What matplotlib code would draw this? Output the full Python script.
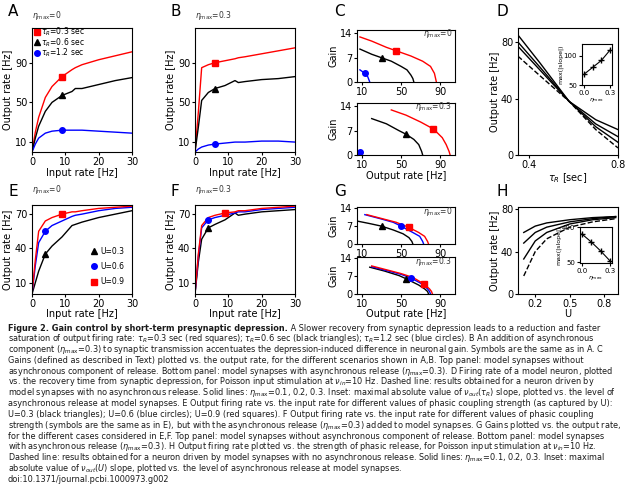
import numpy as np
import matplotlib.pyplot as plt

# ---- data ----
rate_in = [0, 1, 2, 4, 6, 9, 12, 13, 15, 20, 25, 30]
a_red = [0, 20, 35, 55, 66, 76, 83, 85, 88, 93, 97, 101]
a_black = [0, 14, 26, 41, 50, 57, 61, 64, 64, 68, 72, 75]
a_blue = [0, 8, 14, 19, 21, 22, 22, 22, 22, 21, 20, 19]
b_red = [0, 40, 85, 88, 90, 92, 94, 95, 96, 99, 102, 105]
b_black = [0, 25, 52, 60, 64, 67, 72, 70, 71, 73, 74, 76]
b_blue = [0, 3, 5, 7, 8, 9, 10, 10, 10, 11, 11, 10]
mk_a = {"x": 9, "red": 76, "black": 57, "blue": 22}
mk_b = {"x": 6, "red": 90, "black": 64, "blue": 8}

c1_red_x = [8, 20, 35, 45, 60, 72, 80, 84, 86]
c1_red_y = [13, 11.8, 10, 9, 7.5, 6, 4.5, 2.5, 0]
c1_black_x = [8, 20, 30, 40, 50, 56, 60, 62, 63]
c1_black_y = [9.5, 8, 7, 6, 4.5, 3.5, 2, 1, 0]
c1_blue_x = [8, 13, 16, 18]
c1_blue_y = [3.5, 2.5, 1.5, 0]
c2_red_x = [40, 55, 70, 83, 92, 96, 99, 100]
c2_red_y = [13, 11.5, 9.5, 7.5, 5, 3, 1, 0]
c2_black_x = [20, 35, 48, 55, 63, 68, 71, 72]
c2_black_y = [10.5, 9, 7, 6, 4.5, 3, 1, 0]
mk_c1 = [(45, 9, "red"), (30, 7, "black"), (13, 2.5, "blue")]
mk_c2 = [(83, 7.5, "red"), (55, 6, "black"), (8, 1, "blue")]

tau_r = [0.35, 0.45, 0.58, 0.7, 0.8]
d_lines = [[85, 65, 38, 25, 18], [80, 62, 38, 22, 13], [77, 60, 38, 20, 9], [70, 56, 38, 18, 5]]
d_inset_x = [0, 0.1, 0.2, 0.3]
d_inset_y = [68, 80, 92, 110]

e_red = [0, 30, 55, 64, 67, 70, 72, 72, 73, 75, 76, 77]
e_blue = [0, 25, 45, 55, 60, 64, 68, 69, 70, 73, 75, 76]
e_black = [0, 10, 20, 35, 42, 50, 60, 61, 63, 67, 70, 73]
f_red = [0, 35, 60, 67, 69, 71, 72, 73, 73, 75, 76, 77]
f_blue = [0, 33, 58, 65, 67, 69, 71, 72, 72, 74, 75, 76]
f_black = [0, 28, 48, 58, 61, 65, 71, 69, 70, 72, 73, 74]
mk_e = [(9, 70, "red"), (4, 55, "blue"), (4, 35, "black")]
mk_f = [(9, 71, "red"), (4, 65, "blue"), (4, 58, "black")]

g1_red_x = [15, 30, 45, 58, 68, 74, 77, 78]
g1_red_y = [11.5, 10, 8.5, 6.5, 4.5, 3, 1, 0]
g1_blue_x = [13, 28, 42, 50, 62, 69, 72, 73]
g1_blue_y = [11.5, 10, 8.5, 7, 4.5, 3, 1, 0]
g1_black_x = [5, 18, 30, 42, 52, 58, 61, 62]
g1_black_y = [9, 8, 7, 5.5, 4, 2.5, 1, 0]
g2_red_x = [20, 35, 50, 62, 73, 79, 81, 82]
g2_red_y = [11, 9.5, 8, 6.5, 4, 2, 1, 0]
g2_blue_x = [20, 35, 50, 60, 71, 77, 79, 80]
g2_blue_y = [10.7, 9.2, 7.7, 6.3, 4, 2, 1, 0]
g2_black_x = [18, 33, 48, 55, 68, 74, 77, 78]
g2_black_y = [10.5, 9, 7.2, 6, 3.5, 2, 1, 0]
mk_g1 = [(30, 7, "black"), (50, 7, "blue"), (58, 6.5, "red")]
mk_g2 = [(55, 6, "black"), (60, 6.3, "blue"), (73, 4, "red")]

u_vals = [0.1, 0.2, 0.3, 0.5, 0.7, 0.9]
h_lines = [[58, 64, 67, 70, 72, 73], [48, 58, 63, 68, 71, 73], [33, 50, 58, 66, 70, 72], [17, 40, 52, 63, 68, 71]]
h_inset_x = [0, 0.1, 0.2, 0.3]
h_inset_y = [330, 250, 160, 60]

W, H = 640, 486
fig = plt.figure(figsize=(6.4, 4.86), dpi=100)
plt.rcParams["font.size"] = 7

SYM = {"red": "s", "black": "^", "blue": "o"}


def ax_at(x0, y0, x1, y1):
    a = fig.add_axes([x0 / W, 1 - y1 / H, (x1 - x0) / W, (y1 - y0) / H])
    a.tick_params(labelsize=7, length=2, pad=1.5)
    return a


def mark(a, x, y, c, s=4):
    a.plot(x, y, SYM[c], color=c, ms=s)


def eta(a, txt, x=0.0, y=1.03, ha="left"):
    a.text(x, y, r"$\eta_{\rm max}$=" + txt, transform=a.transAxes, fontsize=5.5, ha=ha, va="bottom", color="#333333")


# A, B
for x0, lbl, R, K, Bl, mk, et in [(32, "A", a_red, a_black, a_blue, mk_a, "0"),
                                  (195, "B", b_red, b_black, b_blue, mk_b, "0.3")]:
    a = ax_at(x0, 28, x0 + 100, 152)
    a.plot(rate_in, R, "r", lw=1)
    a.plot(rate_in, K, "k", lw=1)
    a.plot(rate_in, Bl, "b", lw=1)
    for c in ["red", "black", "blue"]:
        mark(a, mk["x"], mk[c], c)
    a.set_xlim(0, 30); a.set_ylim(0, 125)
    a.set_xticks([0, 10, 20, 30]); a.set_yticks([10, 50, 90])
    a.set_xlabel("Input rate [Hz]", labelpad=1); a.set_ylabel("Output rate [Hz]", labelpad=1)
    eta(a, et, 0.0, 1.05)
    fig.text((x0 - 24) / W, 1 - 12 / H, lbl, fontsize=11, va="center")
    if lbl == "A":
        for i, (c, t) in enumerate([("red", "0.3"), ("black", "0.6"), ("blue", "1.2")]):
            yy = 0.97 - i * 0.085
            a.plot(0.05, yy, SYM[c], color=c, ms=4, transform=a.transAxes, clip_on=False)
            a.text(0.09, yy, r"$\tau_R$=" + t + " sec", transform=a.transAxes, fontsize=5.5, va="center")

# C
fig.text(334 / W, 1 - 12 / H, "C", fontsize=11, va="center")
for (y0, y1), curves, mks, et, xl in [((30, 82), [(c1_red_x, c1_red_y, "r"), (c1_black_x, c1_black_y, "k"), (c1_blue_x, c1_blue_y, "b")], mk_c1, "0", False),
                                      ((103, 155), [(c2_red_x, c2_red_y, "r"), (c2_black_x, c2_black_y, "k")], mk_c2, "0.3", True)]:
    a = ax_at(357, y0, 455, y1)
    for xs, ys, c in curves:
        a.plot(xs, ys, c, lw=1)
    for x, y, c in mks:
        mark(a, x, y, c)
    a.set_xlim(5, 105); a.set_ylim(0, 15)
    a.set_xticks([10, 50, 90]); a.set_yticks([0, 7, 14])
    a.set_ylabel("Gain", labelpad=1)
    eta(a, et, 0.97, 0.8, "right")
    if xl:
        a.set_xlabel("Output rate [Hz]", labelpad=1)

# D
a = ax_at(518, 28, 618, 155)
for i, ys in enumerate(d_lines):
    a.plot(tau_r, ys, "k", lw=1, ls="--" if i == 3 else "-")
a.set_xlim(0.35, 0.8); a.set_ylim(0, 90)
a.set_xticks([0.4, 0.8]); a.set_yticks([0, 40, 80])
a.set_xlabel(r"$\tau_R$ [sec]", labelpad=1); a.set_ylabel("Output rate [Hz]", labelpad=1)
fig.text(496 / W, 1 - 12 / H, "D", fontsize=11, va="center")
ia = ax_at(582, 44, 612, 85)
ia.plot(d_inset_x, d_inset_y, "k+-", lw=0.8, ms=4)
ia.set_xlim(-0.02, 0.32); ia.set_ylim(50, 120)
ia.set_xticks([0, 0.3]); ia.set_yticks([50, 100])
ia.tick_params(labelsize=5)
ia.set_ylabel("max(|slope|)", fontsize=4.5, labelpad=0)
ia.set_xlabel(r"$\eta_{\rm max}$", fontsize=4.5, labelpad=0)

# E, F
for x0, lbl, R, Bl, K, mks, et in [(32, "E", e_red, e_blue, e_black, mk_e, "0"),
                                   (195, "F", f_red, f_blue, f_black, mk_f, "0.3")]:
    a = ax_at(x0, 205, x0 + 100, 294)
    a.plot(rate_in, K, "k", lw=1)
    a.plot(rate_in, Bl, "b", lw=1)
    a.plot(rate_in, R, "r", lw=1)
    for x, y, c in mks:
        mark(a, x, y, c)
    a.set_xlim(0, 30); a.set_ylim(0, 78)
    a.set_xticks([0, 10, 20, 30]); a.set_yticks([10, 40, 70])
    a.set_xlabel("Input rate [Hz]", labelpad=0); a.set_ylabel("Output rate [Hz]", labelpad=1)
    eta(a, et, 0.0, 1.1)
    fig.text((x0 - 24) / W, 1 - 191 / H, lbl, fontsize=11, va="center")
    if lbl == "E":
        for i, (c, t) in enumerate([("black", "0.3"), ("blue", "0.6"), ("red", "0.9")]):
            yy = 0.48 - i * 0.17
            a.plot(0.62, yy, SYM[c], color=c, ms=4, transform=a.transAxes)
            a.text(0.68, yy, "U=" + t, transform=a.transAxes, fontsize=5.5, va="center")

# G
fig.text(334 / W, 1 - 191 / H, "G", fontsize=11, va="center")
for (y0, y1), curves, mks, et, xl in [((207, 244), [(g1_black_x, g1_black_y, "k"), (g1_blue_x, g1_blue_y, "b"), (g1_red_x, g1_red_y, "r")], mk_g1, "0", False),
                                      ((257, 294), [(g2_black_x, g2_black_y, "k"), (g2_blue_x, g2_blue_y, "b"), (g2_red_x, g2_red_y, "r")], mk_g2, "0.3", True)]:
    a = ax_at(357, y0, 455, y1)
    for xs, ys, c in curves:
        a.plot(xs, ys, c, lw=1)
    for x, y, c in mks:
        mark(a, x, y, c)
    a.set_xlim(5, 105); a.set_ylim(0, 14.5)
    a.set_xticks([10, 50, 90]); a.set_yticks([0, 7, 14])
    a.set_ylabel("Gain", labelpad=1)
    eta(a, et, 0.97, 0.7, "right")
    if xl:
        a.set_xlabel("Output rate [Hz]", labelpad=0)

# H
a = ax_at(518, 207, 618, 294)
for i, ys in enumerate(h_lines):
    a.plot(u_vals, ys, "k", lw=1, ls="--" if i == 3 else "-")
a.set_xlim(0.05, 0.92); a.set_ylim(0, 82)
a.set_xticks([0.2, 0.5, 0.8]); a.set_yticks([0, 40, 80])
a.set_xlabel("U", labelpad=0); a.set_ylabel("Output rate [Hz]", labelpad=1)
fig.text(496 / W, 1 - 191 / H, "H", fontsize=11, va="center")
ia = ax_at(580, 227, 612, 263)
ia.plot(h_inset_x, h_inset_y, "k+-", lw=0.8, ms=4)
ia.set_xlim(-0.02, 0.32); ia.set_ylim(40, 400)
ia.set_xticks([0, 0.3]); ia.set_yticks([50, 400])
ia.tick_params(labelsize=5)
ia.set_ylabel("max(|slope|)", fontsize=4.5, labelpad=0)
ia.set_xlabel(r"$\eta_{\rm max}$", fontsize=4.5, labelpad=0)

# caption
cap = [
    " A Slower recovery from synaptic depression leads to a reduction and faster",
    r"saturation of output firing rate: $\tau_R$=0.3 sec (red squares); $\tau_R$=0.6 sec (black triangles); $\tau_R$=1.2 sec (blue circles). B An addition of asynchronous",
    r"component ($\eta_{\rm max}$=0.3) to synaptic transmission accentuates the depression-induced difference in neuronal gain. Symbols are the same as in A. C",
    "Gains (defined as described in Text) plotted vs. the output rate, for the different scenarios shown in A,B. Top panel: model synapses without",
    r"asynchronous component of release. Bottom panel: model synapses with asynchronous release ($\eta_{\rm max}$=0.3). D Firing rate of a model neuron, plotted",
    r"vs. the recovery time from synaptic depression, for Poisson input stimulation at $\nu_{in}$=10 Hz. Dashed line: results obtained for a neuron driven by",
    r"model synapses with no asynchronous release. Solid lines: $\eta_{\rm max}$=0.1, 0.2, 0.3. Inset: maximal absolute value of $\nu_{out}(\tau_R)$ slope, plotted vs. the level of",
    "asynchronous release at model synapses. E Output firing rate vs. the input rate for different values of phasic coupling strength (as captured by U):",
    "U=0.3 (black triangles); U=0.6 (blue circles); U=0.9 (red squares). F Output firing rate vs. the input rate for different values of phasic coupling",
    r"strength (symbols are the same as in E), but with the asynchronous release ($\eta_{\rm max}$=0.3) added to model synapses. G Gains plotted vs. the output rate,",
    "for the different cases considered in E,F. Top panel: model synapses without asynchronous component of release. Bottom panel: model synapses",
    r"with asynchronous release ($\eta_{\rm max}$=0.3). H Output firing rate plotted vs. the strength of phasic release, for Poisson input stimulation at $\nu_{in}$=10 Hz.",
    r"Dashed line: results obtained for a neuron driven by model synapses with no asynchronous release. Solid lines: $\eta_{\rm max}$=0.1, 0.2, 0.3. Inset: maximal",
    r"absolute value of $\nu_{out}(U)$ slope, plotted vs. the level of asynchronous release at model synapses.",
    "doi:10.1371/journal.pcbi.1000973.g002",
]
fs = 5.9
x0 = 8 / W
y_first = 328
step = 10.8
bold = fig.text(x0, 1 - y_first / H, "Figure 2. Gain control by short-term presynaptic depression.",
                fontsize=fs, fontweight="bold", va="center", color="#1a1a1a")
r = fig.canvas.get_renderer()
bb = bold.get_window_extent(r)
fig.text(bb.x1 / fig.bbox.width, 1 - y_first / H, cap[0], fontsize=fs, va="center", color="#1a1a1a")
for i, line in enumerate(cap[1:]):
    fig.text(x0, 1 - (y_first + (i + 1) * step) / H, line, fontsize=fs, va="center", color="#1a1a1a")

fig.savefig("out.png", dpi=100)
